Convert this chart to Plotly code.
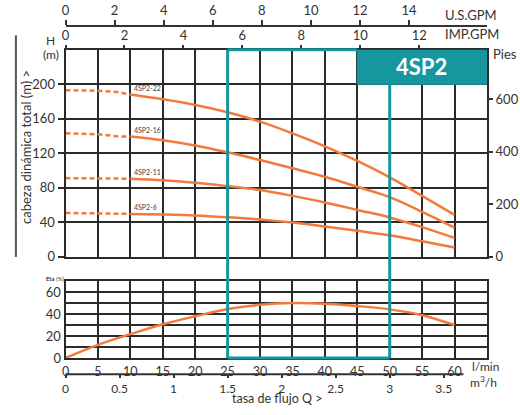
import plotly.graph_objects as go
import numpy as np

# ---------------- data ----------------
flow_dash = [0, 5, 8, 10]                      # l/min (dashed, start-up zone)
flow_solid = [10, 15, 20, 25, 30, 35, 40, 45, 50, 55, 60]  # l/min

models = ["4SP2-22", "4SP2-16", "4SP2-11", "4SP2-6"]
head_dash = {
    "4SP2-22": [193, 192.5, 191, 188],
    "4SP2-16": [143, 142, 139.5, 139.3],
    "4SP2-11": [91.1, 91, 90.6, 90.4],
    "4SP2-6": [50.7, 50.5, 50.0, 49.6],
}
head_solid = {
    "4SP2-22": [188, 182.5, 176, 167.5, 156.6, 143, 128, 111, 92, 70.5, 48.4],
    "4SP2-16": [139.3, 135, 129, 121, 112, 102.5, 92.6, 81, 69, 52, 33.6],
    "4SP2-11": [90.4, 88.6, 85.6, 81.8, 77.3, 70.5, 62.9, 54.2, 45.5, 34.3, 21.7],
    "4SP2-6": [49.6, 48.9, 47.8, 45.7, 43.1, 39.5, 35.1, 30, 24.8, 17.9, 10.7],
}

eta_flow = [0, 5, 10, 15, 20, 25, 30, 35, 40, 45, 50, 55, 60]
eta_vals = [0, 12, 21.7, 30.7, 38, 44.6, 48.5, 50, 49.4, 47.3, 44.3, 39, 30]

lmin_ticks = [0, 5, 10, 15, 20, 25, 30, 35, 40, 45, 50, 55, 60]
head_ticks = [0, 40, 80, 120, 160, 200]
eta_ticks = [0, 20, 40, 60]
eta_minor = [10, 30, 50]
usgpm_ticks = [0, 2, 4, 6, 8, 10, 12, 14]
impgpm_ticks = [0, 2, 4, 6, 8, 10, 12]
m3h_ticks = [0, 0.5, 1, 1.5, 2, 2.5, 3, 3.5]
m3h_ticktext = ["0", "0.5", "1", "1.5", "2", "2.5", "3", "3.5"]
pies_ticks = [0, 200, 400, 600]

duty_range = [25, 50]           # l/min, recommended range box
flow_max = 65
head_max = 240
eta_max = 70

L_PER_USGAL = 3.785
L_PER_IMPGAL = 4.546
FT_PER_M = 3.28084

# ---------------- style ----------------
W, H = 520, 415
ORANGE = "#F27A3A"
TEAL = "#16969F"
GRID = "#2a2a2a"
TXT = "#333333"
FONT = "Lato"

def px_x(p):
    return p / W

def px_y(p):
    return 1 - p / H

xdom = [px_x(62), px_x(486.7)]
ydom_top = [px_y(261.7), px_y(50.7)]
ydom_eta = [px_y(365), px_y(286.7)]
m3h_pos = px_y(381.5)

fig = go.Figure()

for m in models:
    fig.add_trace(go.Scatter(x=flow_dash, y=head_dash[m], mode="lines",
                             line=dict(color=ORANGE, width=2.5, dash="5px,3px"),
                             xaxis="x", yaxis="y", hoverinfo="skip", showlegend=False))
    fig.add_trace(go.Scatter(x=flow_solid, y=head_solid[m], mode="lines",
                             line=dict(color=ORANGE, width=2.5, shape="spline"),
                             xaxis="x", yaxis="y", showlegend=False, name=m))

fig.add_trace(go.Scatter(x=eta_flow, y=eta_vals, mode="lines",
                         line=dict(color=ORANGE, width=2.5, shape="spline"),
                         xaxis="x2", yaxis="y2", showlegend=False, name="Eta"))

# dummy (invisible) traces to activate the secondary unit axes
allflow = np.array(flow_solid, dtype=float)
fig.add_trace(go.Scatter(x=allflow / L_PER_USGAL, y=head_solid["4SP2-6"], mode="lines",
                         opacity=0, xaxis="x3", yaxis="y", hoverinfo="skip", showlegend=False))
fig.add_trace(go.Scatter(x=allflow / L_PER_IMPGAL, y=head_solid["4SP2-6"], mode="lines",
                         opacity=0, xaxis="x4", yaxis="y", hoverinfo="skip", showlegend=False))
fig.add_trace(go.Scatter(x=np.array(eta_flow) * 0.06, y=eta_vals, mode="lines",
                         opacity=0, xaxis="x5", yaxis="y2", hoverinfo="skip", showlegend=False))
fig.add_trace(go.Scatter(x=flow_solid, y=np.array(head_solid["4SP2-6"]) * FT_PER_M, mode="lines",
                         opacity=0, xaxis="x", yaxis="y3", hoverinfo="skip", showlegend=False))

tickfont = dict(family=FONT, size=13, color=TXT)

fig.update_layout(
    width=W, height=H,
    margin=dict(l=0, r=0, t=0, b=0),
    paper_bgcolor="white", plot_bgcolor="rgba(0,0,0,0)",
    font=dict(family=FONT, color=TXT),
    xaxis=dict(domain=xdom, range=[0, flow_max], anchor="y",
               tickvals=lmin_ticks, showticklabels=False, ticks="",
               showgrid=True, gridcolor=GRID, gridwidth=2,
               showline=True, linecolor=GRID, linewidth=2, mirror=True, zeroline=False),
    yaxis=dict(domain=ydom_top, range=[0, head_max], anchor="x",
               tickvals=head_ticks, ticks="outside", ticklen=6,
               tickcolor=GRID, tickwidth=1.5, tickfont=tickfont,
               showgrid=True, gridcolor=GRID, gridwidth=2,
               showline=True, linecolor=GRID, linewidth=2, mirror=True, zeroline=False),
    xaxis2=dict(domain=xdom, range=[0, flow_max], anchor="y2", matches="x",
                tickvals=lmin_ticks, ticks="", ticklabelstandoff=1,
                tickfont=dict(family=FONT, size=12.5, color=TXT),
                showgrid=True, gridcolor=GRID, gridwidth=2,
                showline=True, linecolor=GRID, linewidth=2, mirror=True, zeroline=False),
    yaxis2=dict(domain=ydom_eta, range=[0, eta_max], anchor="x2",
                tickvals=eta_ticks, ticks="", tickfont=tickfont,
                showgrid=True, gridcolor=GRID, gridwidth=2,
                minor=dict(tickvals=eta_minor, showgrid=True, gridcolor=GRID, gridwidth=2),
                showline=True, linecolor=GRID, linewidth=2, mirror=True, zeroline=False),
    xaxis3=dict(overlaying="x", anchor="free", position=px_y(27), side="top",
                range=[0, flow_max / L_PER_USGAL], tickvals=usgpm_ticks,
                ticks="outside", ticklen=5, tickwidth=1.5, tickcolor=TXT, tickfont=tickfont,
                showline=True, linecolor=TXT, linewidth=2, showgrid=False, zeroline=False),
    xaxis4=dict(overlaying="x", anchor="y", side="top",
                range=[0, flow_max / L_PER_IMPGAL], tickvals=impgpm_ticks,
                ticks="outside", ticklen=4, tickwidth=1.5, tickcolor=TXT, tickfont=tickfont,
                showline=False, showgrid=False, zeroline=False),
    xaxis5=dict(overlaying="x2", anchor="free", position=m3h_pos, side="bottom",
                range=[0, flow_max * 0.06], tickvals=m3h_ticks, ticktext=m3h_ticktext,
                ticks="outside", ticklen=3, tickwidth=1.5, tickcolor=TXT,
                tickfont=dict(family=FONT, size=12, color=TXT), ticklabelstandoff=0,
                showline=False, showgrid=False, zeroline=False),
    yaxis3=dict(overlaying="y", anchor="x", side="right",
                range=[0, head_max * FT_PER_M], tickvals=pies_ticks,
                ticks="outside", ticklen=5, tickwidth=1.5, tickcolor=TXT, tickfont=tickfont,
                showline=False, showgrid=False, zeroline=False),
)

shapes = []
# m3/h axis line (stops before the unit label)
shapes.append(dict(type="line", xref="paper", yref="paper",
                   x0=xdom[0], x1=px_x(463), y0=m3h_pos, y1=m3h_pos,
                   line=dict(color=TXT, width=2)))
# left vertical rule next to axis title
shapes.append(dict(type="line", xref="paper", yref="paper",
                   x0=px_x(12), x1=px_x(12), y0=px_y(36), y1=px_y(262),
                   line=dict(color="#555555", width=2)))
# header box 4SP2
shapes.append(dict(type="rect", xref="x", yref="y", x0=45, x1=flow_max, y0=200, y1=head_max,
                   fillcolor=TEAL, line=dict(color=TEAL, width=1), layer="above"))
# duty range box (teal)
top_y = ydom_top[1]
bot_y = ydom_eta[0]
shapes.append(dict(type="line", xref="x", yref="paper", x0=duty_range[0], x1=duty_range[0],
                   y0=bot_y, y1=top_y, line=dict(color=TEAL, width=3), layer="above"))
shapes.append(dict(type="line", xref="x", yref="paper", x0=duty_range[1], x1=duty_range[1],
                   y0=bot_y, y1=px_y(86), line=dict(color=TEAL, width=3), layer="above"))
shapes.append(dict(type="line", xref="x", yref="paper", x0=duty_range[0], x1=duty_range[1],
                   y0=bot_y, y1=bot_y, line=dict(color=TEAL, width=3), layer="above"))
shapes.append(dict(type="line", xref="x", yref="paper", x0=duty_range[0], x1=45,
                   y0=top_y, y1=top_y, line=dict(color=TEAL, width=3), layer="above"))
fig.update_layout(shapes=shapes)

ann = []
def txt(x, y, s, size=13, xanchor="center", yanchor="middle", **kw):
    ann.append(dict(x=px_x(x), y=px_y(y), xref="paper", yref="paper", text=s,
                    showarrow=False, xanchor=xanchor, yanchor=yanchor,
                    font=dict(family=FONT, size=size, color=kw.pop("color", TXT)), **kw))

txt(421, 68, "<b>4SP2</b>", size=22, color="white")
txt(442, 15, "U.S.GPM", size=13, xanchor="left")
txt(442, 35, "IMP.GPM", size=13, xanchor="left")
txt(491, 55, "Pies", size=13, xanchor="left")
txt(47, 41, "H", size=12)
txt(47, 56, "(m)", size=12)
txt(22, 150, "cabeza dinámica total (m) >", size=13, textangle=-90)
txt(40, 284, "<b>Eta</b> (%)", size=6, xanchor="left")
txt(470, 374, "l/min", size=12, xanchor="left")
txt(468, 390, "m<sup>3</sup>/h", size=12, xanchor="left")
txt(275, 415.5, "tasa de flujo Q >", size=12.5, yanchor="bottom", borderpad=0)

for m in models:
    ann.append(dict(x=10.2, y=head_solid[m][0], xref="x", yref="y", text=m,
                    showarrow=False, xanchor="left", yanchor="bottom", yshift=1,
                    font=dict(family=FONT, size=7, color="#444444")))
fig.update_layout(annotations=ann)

fig.write_html("out.html", config={"displayModeBar": False},
               post_script="document.body.style.margin='0';document.body.style.overflow='hidden';")
